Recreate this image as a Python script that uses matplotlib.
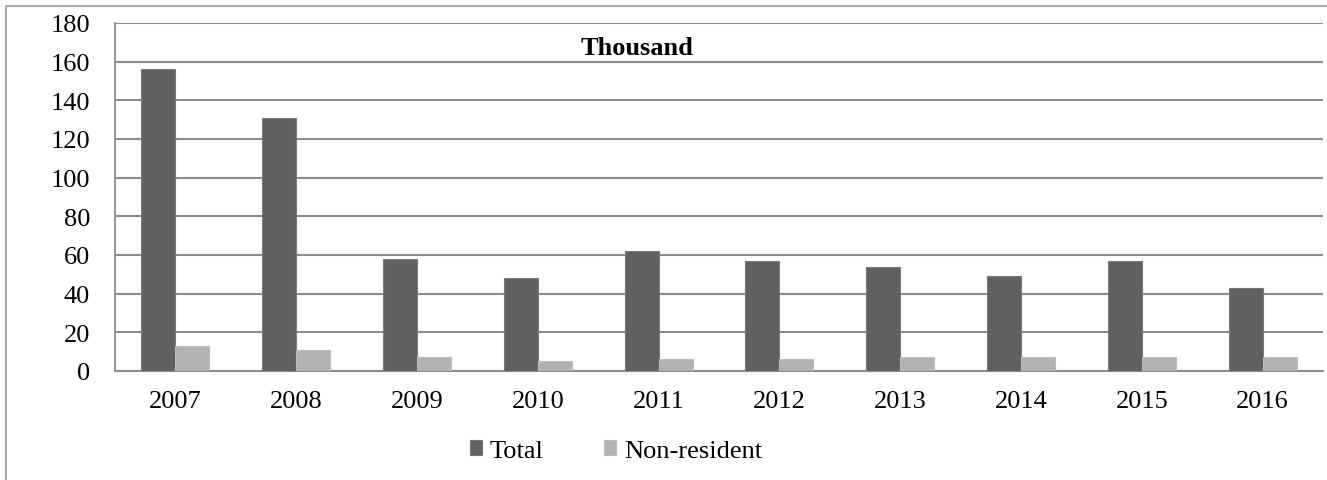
import matplotlib
matplotlib.use("Agg")
import matplotlib.pyplot as plt
import numpy as np
from matplotlib.patches import Rectangle

years = ["2007", "2008", "2009", "2010", "2011", "2012", "2013", "2014", "2015", "2016"]
total = [156, 131, 58, 48, 62, 57, 54, 49, 57, 43]
non_resident = [13, 11, 7, 5, 6, 6, 7, 7, 7, 7]
yticks = [0, 20, 40, 60, 80, 100, 120, 140, 160, 180]

plt.rcParams['font.family'] = ['Liberation Serif', 'DejaVu Serif']

W, H = 1327, 481
fig = plt.figure(figsize=(W / 100, H / 100), dpi=100)
ax = fig.add_axes([115 / W, 1 - 372 / H, (1323 - 115) / W, (372 - 24) / H])

x = np.arange(len(years))
bw = 0.282
ax.bar(x - bw / 2, total, width=bw, color="#606060", edgecolor="#7a7a7a", linewidth=0.8,
       label="Total", zorder=3)
ax.bar(x + bw / 2, non_resident, width=bw, color="#b2b2b2", edgecolor="#bcbcbc", linewidth=0.8,
       label="Non-resident", zorder=3)

ax.set_xlim(-0.5, len(years) - 0.5)
ax.set_ylim(0, 180)
ax.set_yticks(yticks)
ax.set_xticks(x)
ax.set_xticklabels(years)
ax.tick_params(axis="both", length=0, labelsize=19, colors="black")
ax.tick_params(axis="x", pad=14)
ax.tick_params(axis="y", pad=18)
ax.yaxis.grid(True, color="#8c8c8c", linewidth=1.5, zorder=0)
for s in ["top", "right"]:
    ax.spines[s].set_visible(False)
ax.spines["left"].set_color("#8c8c8c")
ax.spines["left"].set_linewidth(1.3)
ax.spines["bottom"].set_color("#8c8c8c")
ax.spines["bottom"].set_linewidth(1.5)

ax.text(0.432, 0.93, "Thousand", transform=ax.transAxes, ha="center", va="center",
        fontsize=19, fontweight="bold")

leg = fig.legend(loc="center", bbox_to_anchor=(616 / W, 1 - 452 / H), ncol=2, frameon=False,
                 fontsize=19, handlelength=0.46, handleheight=0.46, handletextpad=0.3,
                 columnspacing=2.3)

# outer chart frame (partly clipped)
fig.add_artist(Rectangle((6 / W, -0.1), 1.2, 1 - 7 / H + 0.1, transform=fig.transFigure,
                         fill=False, edgecolor="#aaaaaa", linewidth=1.5))

fig.savefig("out.png", dpi=100)
